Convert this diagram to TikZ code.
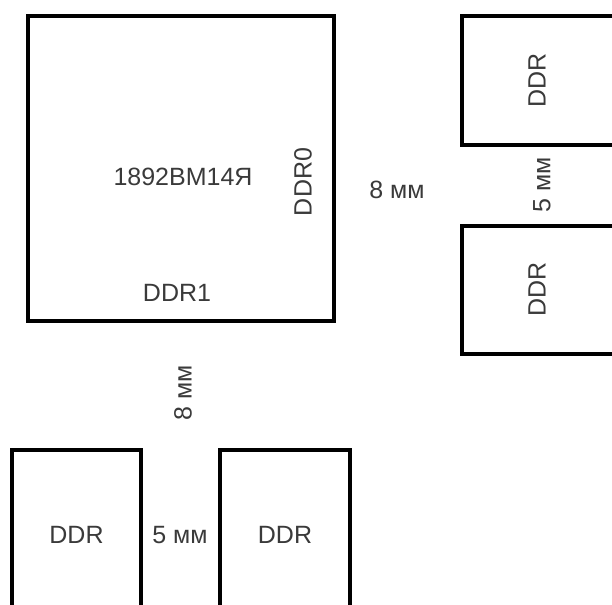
\documentclass[tikz,border=0pt]{standalone}
\usepackage{fontspec}
\setmainfont{Liberation Sans}
\usetikzlibrary{positioning}
\definecolor{ink}{HTML}{000000}
\definecolor{txt}{HTML}{3A3A3A}

\begin{document}
\begin{tikzpicture}[x=0.5pt,y=-0.5pt,font=\fontsize{12.5}{15}\selectfont,
  chip/.style={draw=ink,line width=2pt,inner sep=0pt,text=txt},
  lbl/.style={text=txt,inner sep=1pt}]
\useasboundingbox (0,0) rectangle (612,605);
\clip (0,0) rectangle (612,605);
% the processor
\node[chip,minimum width=153pt,minimum height=152.5pt] (soc) at (181,168.5) {};
\node[lbl] (socname) at (183,177) {1892ВМ14Я};
\node[lbl,rotate=90] (ddr0) at (303,182) {DDR0};
\node[lbl] (ddr1) at (177,293) {DDR1};
% right: memory on DDR0, cut by the edge
\node[chip,minimum width=87.5pt,minimum height=64.5pt] (ra) at (549.5,80.5) {};
\node[chip,minimum width=87.5pt,minimum height=64pt] (rb) at (549.5,289.5) {};
\node[lbl,rotate=90] (ratext) at (537,80.5) {DDR};
\node[lbl,rotate=90] (rbtext) at (537,289.5) {DDR};
\node[lbl] (gapr) at (397,190) {8 мм};
\node[lbl,rotate=90] (stepr) at (542,185) {5 мм};
% bottom: memory on DDR1, cut by the edge
\node[chip,minimum width=64.5pt,minimum height=85pt] (ba) at (76.5,535) {DDR};
\node[chip,minimum width=65pt,minimum height=85pt] (bb) at (285,535) {DDR};
\node[lbl,rotate=90] (gapb) at (183,393) {8 мм};
\node[lbl] (stepb) at (180,535) {5 мм};
\end{tikzpicture}
\end{document}
